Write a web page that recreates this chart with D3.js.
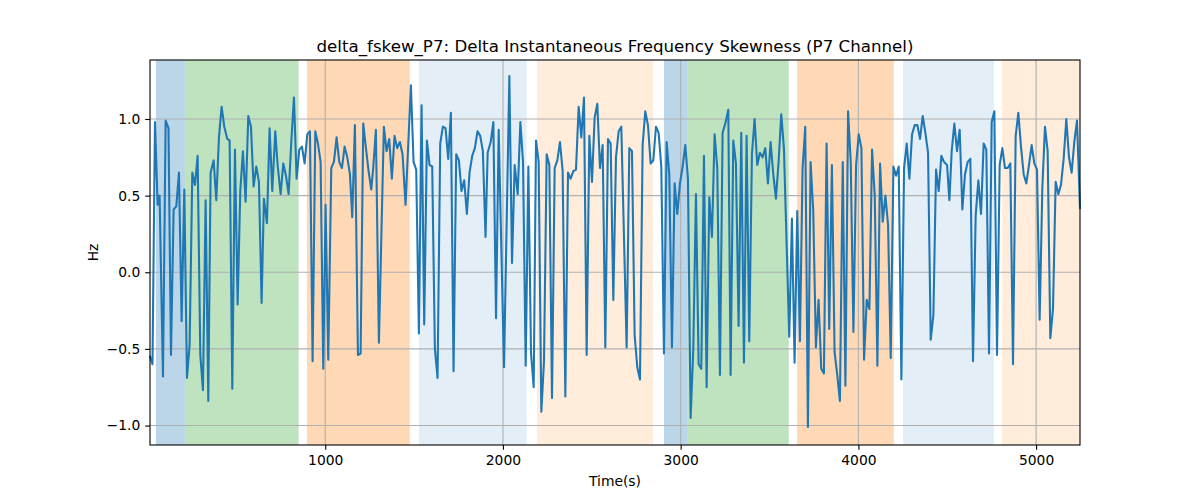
<!DOCTYPE html>
<html><head><meta charset="utf-8">
<script src="https://cdn.jsdelivr.net/npm/d3@7"></script>
<style>body{margin:0;background:#fff}svg{font-family:"DejaVu Sans",sans-serif}</style>
</head><body><svg id="c" width="1200" height="500"></svg>
<script>
const times = [14,28,42,57,68,87,102,118,132,147,162,177,192,207,222,237,252,267,282,297,312,327,342,355,372,387,402,417,432,449,462,477,492,507,522,537,552,567,582,597,612,627,
642,655,672,687,702,719,732,749,764,779,794,809,824,839,854,869,884,899,914,929,944,959,974,989,1002,1017,1034,1049,1064,1079,1094,1109,1124,1139,1152,1167,1184,1199,1214,1229,1244,1259,1270,
1285,1302,1330,1345,1360,1375,1390,1405,1420,1435,1452,1482,1497,1512,1527,1542,1557,1572,1587,1602,1617,1632,1647,1662,1677,1692,1707,1722,1737,1752,1767,1782,1797,1812,1827,1842,1857,1872,1887,1902,
1914,1931,1946,1961,1976,2006,2036,2051,2066,2083,2098,2113,2128,2143,2158,2173,2186,2201,2216,2231,2246,2261,2276,2291,2306,2321,2336,2351,2366,2381,2396,2411,2426,2441,2456,2471,2486,2501,2516,2531,2546,
2561,2576,2591,2606,2621,2636,2651,2666,2696,2711,2726,2741,2756,2771,2786,2801,2816,2831,2846,2861,2876,2891,2906,2921,2936,2951,2966,2981,2996,3011,3026,3041,3056,3071,3086,3101,3116,3131,3146,3161,3176,3191,3206,
3221,3236,3251,3268,3281,3296,3311,3326,3341,3356,3371,3386,3401,3416,3431,3446,3461,3476,3491,3506,3521,3536,3551,3566,3581,3611,3626,3641,3656,3671,3686,3701,3716,3731,3746,3761,3776,3791,3806,3821,3836,3851,
3866,3881,3896,3912,3927,3942,3957,3972,3987,4002,4017,4032,4047,4062,4077,4092,4107,4122,4137,4152,4167,4182,4197,4212,4227,4242,4257,4272,4287,4302,4317,4332,4347,4362,4377,4392,4407,4422,4437,4452,4467,4482,
4499,4512,4525,4540,4555,4570,4585,4600,4615,4630,4645,4660,4675,4690,4705,4720,4735,4750,4765,4780,4795,4810,4825,4840,4855,4870,4885,4900,4915,4930,4945,4960,4975,4990,5005,5020,5035,5050,5065,5080,5095,5110,5125,5140,5155,5170,5185,5200,5215,5230,5247];
const values = [-0.55,-0.60,0.98,0.44,0.50,-0.68,0.99,0.94,-0.54,0.41,0.43,0.65,-0.32,0.54,-0.69,-0.47,0.65,0.57,0.76,-0.54,-0.77,0.47,-0.84,0.65,0.73,0.47,0.88,1.08,0.95,0.87,0.86,-0.76,0.80,-0.21,0.53,0.79,0.46,1.02,0.95,0.56,0.69,0.59,
-0.20,0.48,0.32,0.94,0.53,0.92,0.70,0.51,0.71,0.63,0.51,0.85,1.14,0.61,0.80,0.82,0.71,0.90,0.92,-0.58,0.92,0.84,0.72,-0.63,0.44,-0.57,0.68,0.72,0.88,0.72,0.68,0.82,0.75,0.64,0.36,0.96,-0.54,-0.53,0.97,0.81,0.66,0.54,0.68,
0.93,-0.46,0.95,0.79,0.87,0.61,0.89,0.81,0.85,0.77,0.44,1.22,0.72,0.67,-0.40,1.09,-0.34,0.86,0.70,0.69,-0.50,-0.69,0.84,0.95,0.94,0.74,1.04,-0.645,0.77,0.73,0.53,0.60,0.38,0.65,0.76,0.81,0.92,0.89,0.79,0.23,
0.78,0.85,0.98,-0.30,0.93,-0.62,1.28,0.06,0.70,0.51,0.98,0.72,-0.61,0.69,-0.53,-0.75,0.86,0.72,-0.91,-0.58,0.77,0.70,-0.82,0.68,0.73,0.85,0.66,-0.81,0.65,0.61,0.66,0.67,1.08,0.88,1.14,-0.54,0.89,0.59,1.01,1.10,0.68,
0.83,-0.49,0.87,0.84,-0.18,0.75,0.92,0.95,-0.49,0.81,0.79,-0.41,-0.62,-0.70,0.83,1.05,0.96,0.71,0.73,0.95,0.91,0.69,-0.53,0.85,0.64,-0.49,0.58,0.38,0.58,0.69,0.83,0.61,-0.95,-0.50,0.51,-0.60,-0.63,0.76,-0.75,0.49,0.23,0.90,0.68,
-0.67,0.91,0.97,1.06,-0.67,0.86,0.71,-0.35,0.91,-0.59,0.89,-0.45,0.77,1.00,0.70,0.78,0.75,0.81,0.58,0.85,0.64,0.48,0.72,1.03,0.81,-0.42,0.35,-0.59,0.40,-0.45,0.68,0.95,-1.01,0.72,0.40,-0.49,-0.18,-0.63,-0.66,0.84,-0.37,0.70,
-0.52,-0.67,-0.84,0.72,-0.74,1.05,0.72,-0.39,0.70,0.90,0.81,-0.57,-0.18,-0.24,0.80,0.50,-0.61,0.71,0.33,0.50,0.31,-0.56,0.69,0.63,0.69,-0.70,0.68,0.84,0.61,0.90,0.96,0.96,0.87,1.02,0.91,0.78,-0.44,-0.28,0.67,0.53,0.76,0.72,
0.70,0.47,0.79,0.97,0.79,0.93,0.41,0.64,0.72,0.74,-0.58,0.37,0.60,0.38,0.84,0.80,-0.53,0.98,1.05,-0.54,0.70,0.81,0.68,0.68,0.71,-0.60,0.89,1.04,0.82,0.64,0.58,0.70,0.83,0.71,0.67,-0.31,0.55,0.95,0.79,-0.43,-0.24,0.59,0.51,0.57,0.74,1.00,0.75,0.65,0.85,0.99,0.42];
const spanStart = [47,210,897,1527,2191,2906,3037,3655,4251,4808];
const spanEnd   = [210,850,1475,2133,2844,3037,3608,4199,4763,5247];
const spanColor = ["#1f77b4","#2ca02c","#ff7f0e","#1f77b4","#ff7f0e","#1f77b4","#2ca02c","#ff7f0e","#1f77b4","#ff7f0e"];
const spanAlpha = [0.3,0.3,0.3,0.12,0.15,0.3,0.3,0.3,0.12,0.15];
const xTicks = [1000,2000,3000,4000,5000];
const yTicks = [-1.0,-0.5,0.0,0.5,1.0];
const titleText = "delta_fskew_P7: Delta Instantaneous Frequency Skewness (P7 Channel)";

const L=150,R=1080,T=60,B=445;
const svg=d3.select("#c");
const x=d3.scaleLinear().domain([14,5247]).range([L,R]);
const y=d3.scaleLinear().domain([-1.127,1.385]).range([B,T]);

svg.append("g").selectAll("rect").data(spanStart).join("rect")
  .attr("x",(d,i)=>x(d)).attr("width",(d,i)=>x(spanEnd[i])-x(d))
  .attr("y",T).attr("height",B-T)
  .attr("fill",(d,i)=>spanColor[i]).attr("fill-opacity",(d,i)=>spanAlpha[i]);

const grid=svg.append("g").attr("stroke","#b0b0b0").attr("stroke-width",1.1);
grid.selectAll(".gx").data(xTicks).join("line").attr("x1",d=>x(d)).attr("x2",d=>x(d)).attr("y1",T).attr("y2",B);
grid.selectAll(".gy").data(yTicks).join("line").attr("y1",d=>y(d)).attr("y2",d=>y(d)).attr("x1",L).attr("x2",R);

const pts=times.map((t,i)=>[t,values[i]]);
svg.append("path").datum(pts).attr("fill","none").attr("stroke","#1f77b4").attr("stroke-width",2.08)
  .attr("stroke-linejoin","round").attr("stroke-linecap","square")
  .attr("d",d3.line().x(d=>x(d[0])).y(d=>y(d[1])));

const fmt=d=>d3.format(".1f")(d).replace("-","\u2212");
const xa=svg.append("g").attr("transform",`translate(0,${B})`).call(d3.axisBottom(x).tickValues(xTicks).tickSize(4.86).tickPadding(4.86).tickFormat(d3.format("d")));
const ya=svg.append("g").attr("transform",`translate(${L},0)`).call(d3.axisLeft(y).tickValues(yTicks).tickSize(4.86).tickPadding(4.86).tickFormat(fmt));
[xa,ya].forEach(a=>{a.select(".domain").remove();a.selectAll("text").attr("font-size","13.89px").attr("fill","#000").attr("font-family","DejaVu Sans");a.selectAll("line").attr("stroke","#000").attr("stroke-width",1.1);});

svg.append("rect").attr("x",L).attr("y",T).attr("width",R-L).attr("height",B-T).attr("fill","none").attr("stroke","#000").attr("stroke-width",1.1);

svg.append("text").attr("x",(L+R)/2).attr("y",52).attr("text-anchor","middle").attr("font-size","16.67px").text(titleText);
svg.append("text").attr("x",(L+R)/2).attr("y",486).attr("text-anchor","middle").attr("font-size","13.89px").text("Time(s)");
svg.append("text").attr("transform","translate(98,252.5) rotate(-90)").attr("text-anchor","middle").attr("font-size","13.89px").text("Hz");
</script></body></html>
